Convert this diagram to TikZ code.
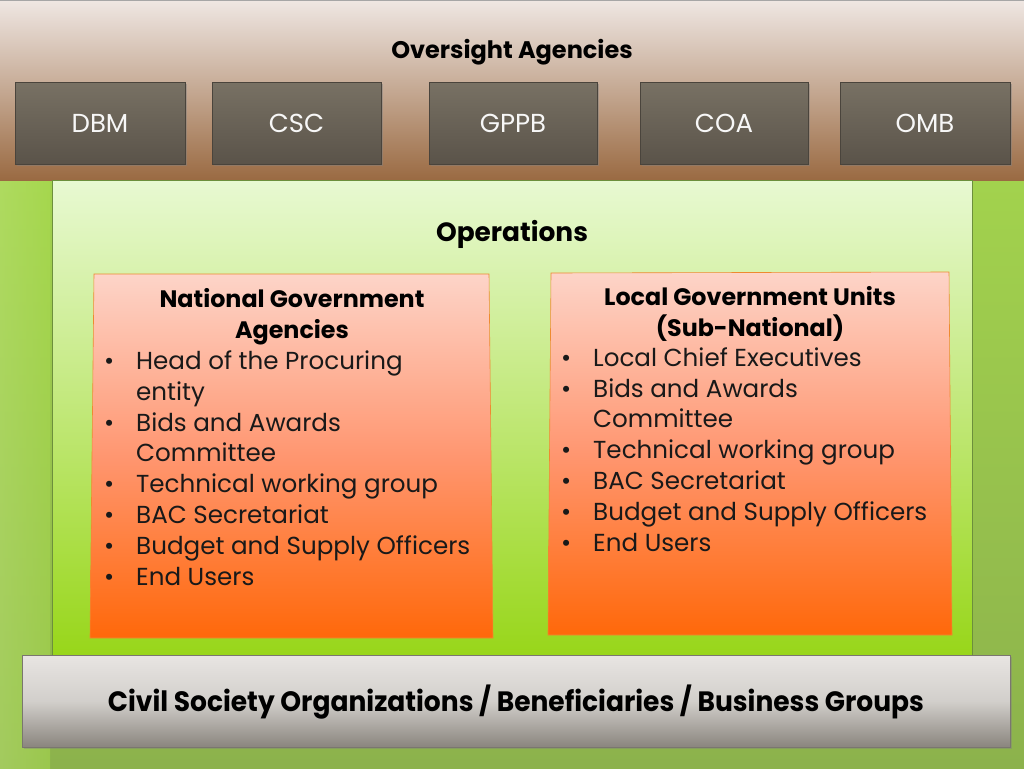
\documentclass[tikz,border=0pt]{standalone}
\usepackage{fontspec}
\setmainfont{Poppins}
\usetikzlibrary{shadows}
\definecolor{bgtop}{HTML}{A9DC4E}
\definecolor{bgbot}{HTML}{8CB24C}
\definecolor{brtop}{HTML}{EFE7E3}
\definecolor{brmid}{HTML}{D2AC92}
\definecolor{brbot}{HTML}{9A6A42}
\definecolor{agtop}{HTML}{787164}
\definecolor{agbot}{HTML}{5A5349}
\definecolor{agborder}{HTML}{4A443C}
\definecolor{grtop}{HTML}{E8F9D2}
\definecolor{grmid}{HTML}{CBF584}
\definecolor{grbot}{HTML}{98D61A}
\definecolor{grborder}{HTML}{6C8F3C}
\definecolor{ortop}{HTML}{FDD4C8}
\definecolor{ormid}{HTML}{FF9670}
\definecolor{orbot}{HTML}{FF680A}
\definecolor{orborder}{HTML}{EE8A30}
\definecolor{gytop}{HTML}{E8E5E2}
\definecolor{gymid}{HTML}{D2CFCB}
\definecolor{gybot}{HTML}{8A857E}
\definecolor{gyborder}{HTML}{7A766F}
\newcommand{\itm}[1]{\makebox[32pt][l]{\textbullet}#1}
\newcommand{\cnt}[1]{\hspace*{32pt}#1}
\begin{document}
\begin{tikzpicture}[x=1pt,y=-1pt,
  agency/.style={draw=agborder, line width=0.8pt, top color=agtop, bottom color=agbot,
    minimum height=82pt, inner sep=0pt, text=white!94!gray,
    font=\fontsize{26}{28}\selectfont,
    drop shadow={opacity=0.45, shadow xshift=1.5pt, shadow yshift=-2pt}},
  heading/.style={font=\bfseries\fontsize{#1}{#1}\selectfont, text=black, inner sep=0pt},
  boxtitle/.style={font=\bfseries\fontsize{23.8}{30.8}\selectfont, align=center, inner sep=0pt, anchor=base},
  boxlist/.style={font=\fontsize{24.6}{30.8}\selectfont, align=left, inner sep=0pt, anchor=base west, text=black!90},
  orbox/.style={top color=ortop, bottom color=orbot, middle color=ormid, draw=orborder, line width=0.6pt}
]
\useasboundingbox (0,0) rectangle (1024,768);
% background
\shade[top color=bgtop, bottom color=bgbot] (0,0) rectangle (1024,768);
\shade[left color=bgtop!80!white, right color=bgtop, opacity=0.5] (0,180) rectangle (50,768);
% top band
\shade[top color=brtop, middle color=brmid, bottom color=brbot] (0,0) rectangle (1024,180);
\draw[gray!70, line width=0.8pt] (0,0.4) -- (1024,0.4);
% operations panel
\shade[top color=grtop, middle color=grmid, bottom color=grbot, draw=grborder, line width=0.8pt] (52,180) rectangle (972,655);
% orange boxes
\shade[orbox] (94,274) -- (489,274) -- (493,638) -- (90,638) -- cycle;
\shade[orbox] (551,273) -- (949,272) -- (952,635) -- (548,635) -- cycle;
% bottom gray box
\node[draw=gyborder, line width=0.6pt, top color=gytop, bottom color=gybot, middle color=gymid,
  minimum width=988pt, minimum height=92pt, inner sep=0pt,
  drop shadow={opacity=0.4, shadow xshift=1.5pt, shadow yshift=-2pt}] (cso) at (516,701) {};
\node[inner sep=0pt] (csotext) at (516,702)
  {\resizebox{816pt}{\height}{\bfseries\fontsize{28}{30}\selectfont Civil Society Organizations / Beneficiaries / Business Groups}};
% headings
\node[heading=24] (oversight) at (512,52) {Oversight Agencies};
\node[heading=26.4] (operations) at (512,234) {Operations};
% agencies
\node[agency, minimum width=170pt] (dbm) at (100,123) {DBM};
\node[agency, minimum width=169pt] (csc) at (296.5,123) {CSC};
\node[agency, minimum width=168pt] (gppb) at (513,123) {GPPB};
\node[agency, minimum width=168pt] (coa) at (724,123) {COA};
\node[agency, minimum width=170pt] (omb) at (925,123) {OMB};
% box texts (base anchor = baseline of last line)
\node[boxtitle] (ngatitle) at (292,338) {National Government\\Agencies};
\node[boxlist] (ngalist) at (104,585) {\itm{Head of the Procuring}\\\cnt{entity}\\\itm{Bids and Awards}\\\cnt{Committee}\\\itm{Technical working group}\\\itm{BAC Secretariat}\\\itm{Budget and Supply Officers}\\\itm{End Users}};
\node[boxtitle] (lgutitle) at (750,336) {Local Government Units\\(Sub-National)};
\node[boxlist] (lgulist) at (561,551) {\itm{Local Chief Executives}\\\itm{Bids and Awards}\\\cnt{Committee}\\\itm{Technical working group}\\\itm{BAC Secretariat}\\\itm{Budget and Supply Officers}\\\itm{End Users}};
\end{tikzpicture}
\end{document}
